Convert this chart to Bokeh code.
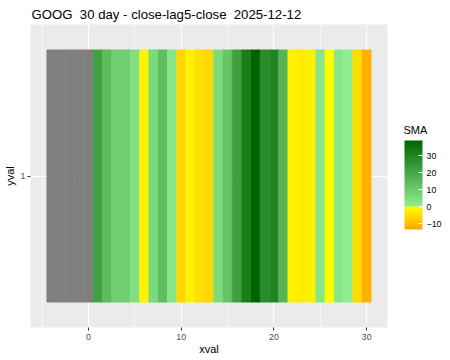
import numpy as np
from bokeh.plotting import figure
from bokeh.models import (LinearColorMapper, ColorBar, FixedTicker, SingleIntervalTicker,
                          Range1d, FactorRange, ColumnDataSource, Label)
from bokeh.embed import file_html
from bokeh.resources import INLINE

# ---- data ----
title_text = "GOOG\u00a0 30 day - close-lag5-close\u00a0 2025-12-12"
xval = list(range(-4, 31))
sma = [np.nan, np.nan, np.nan, np.nan, np.nan,
       21.7, 14.1, 8.9, 8.9, 4.3, -1.95, 5.7, 13.3, 2.2, -6.0,
       -2.25, -4.65, -6.0, 5.7, 11.6, 21.9, 32.0, 39.0, 27.6, 29.8,
       16.0, -2.25, -2.85, -1.95, 2.2, -0.1, 2.2, 0.3, -5.1, -11.85]
yval = ["1"] * len(xval)
x_ticks = [0, 10, 20, 30]
legend_ticks = [-10, 0, 10, 20, 30]
legend_title = "SMA"
sma_low, sma_high = -13.5, 39.0

FONT = "Liberation Sans"

# ---- colour scale: orange -> yellow below 0, lightgreen -> darkgreen above 0 ----
orange = (255, 165, 0)
yellow = (255, 255, 0)
lgreen = (144, 238, 144)
dgreen = (0, 100, 0)

def mix(a, b, t):
    return "#%02x%02x%02x" % tuple(int(round(a[i] * (1 - t) + b[i] * t)) for i in range(3))

n = 525
palette = []
for i in range(n):
    v = sma_low + (i + 0.5) * (sma_high - sma_low) / n
    if v < 0:
        palette.append(mix(yellow, orange, v / sma_low))
    else:
        palette.append(mix(lgreen, dgreen, v / sma_high))

mapper = LinearColorMapper(palette=palette, low=sma_low, high=sma_high, nan_color="#7F7F7F")

src = ColumnDataSource(dict(x=np.array(xval, dtype=float), y=yval, sma=np.array(sma, dtype=float)))

p = figure(width=450, height=360,
           x_range=Range1d(-6.25, 32.25),
           y_range=FactorRange(factors=["1"], range_padding=0.2),
           output_backend="svg", toolbar_location=None,
           min_border_left=29, min_border_right=63, min_border_top=24, min_border_bottom=33,
           background_fill_color="#EBEBEB", border_fill_color="white",
           outline_line_color=None, title=title_text)

p.rect(x="x", y="y", width=1, height=1, source=src,
       fill_color={"field": "sma", "transform": mapper},
       line_color={"field": "sma", "transform": mapper}, line_width=0.4)

# title
p.title.text_font = FONT
p.title.text_font_size = "13.2px"
p.title.text_font_style = "normal"
p.title.text_color = "black"
p.title.align = "left"
p.title.offset = 1
p.title.standoff = 6

# axes
p.xaxis.ticker = SingleIntervalTicker(interval=10, num_minor_ticks=2)
for ax in (p.xaxis[0], p.yaxis[0]):
    ax.axis_line_color = None
    ax.major_tick_line_color = "#333333"
    ax.major_tick_in = 0
    ax.major_tick_out = 3
    ax.minor_tick_line_color = None
    ax.major_label_text_font = FONT
    ax.major_label_text_font_size = "8.8px"
    ax.major_label_text_color = "#4D4D4D"
    ax.axis_label_text_font = FONT
    ax.axis_label_text_font_size = "11px"
    ax.axis_label_text_font_style = "normal"
    ax.axis_label_text_color = "black"
p.xaxis.axis_label = "xval"
p.yaxis.axis_label = "yval"
p.xaxis.major_label_standoff = 2
p.xaxis.axis_label_standoff = 0
p.yaxis.major_label_standoff = 2
p.yaxis.axis_label_standoff = 2
p.yaxis.major_label_orientation = "horizontal"

# grid
p.xgrid.grid_line_color = "white"
p.xgrid.grid_line_width = 1.1
p.xgrid.minor_grid_line_color = "white"
p.xgrid.minor_grid_line_width = 0.55
p.ygrid.grid_line_color = "white"
p.ygrid.grid_line_width = 1.1

# colour bar (placed just right of the panel)
cb = ColorBar(color_mapper=mapper, ticker=FixedTicker(ticks=legend_ticks),
              orientation="vertical",
              width=18, height=89,
              major_label_text_font=FONT, major_label_text_font_size="8.8px",
              major_label_text_color="black", label_standoff=4,
              major_tick_line_color="white", major_tick_in=4, major_tick_out=0,
              minor_tick_line_color=None, bar_line_color=None, border_line_color=None,
              background_fill_color=None, background_fill_alpha=0,
              padding=0, location=(374, 98))
p.add_layout(cb, "center")

p.add_layout(Label(x=16, y=198, x_units="screen", y_units="screen", text=legend_title,
                   text_font=FONT, text_font_size="11px", text_color="black",
                   text_baseline="middle", text_align="left"), "right")

open("out.html", "w").write(file_html(p, INLINE))
